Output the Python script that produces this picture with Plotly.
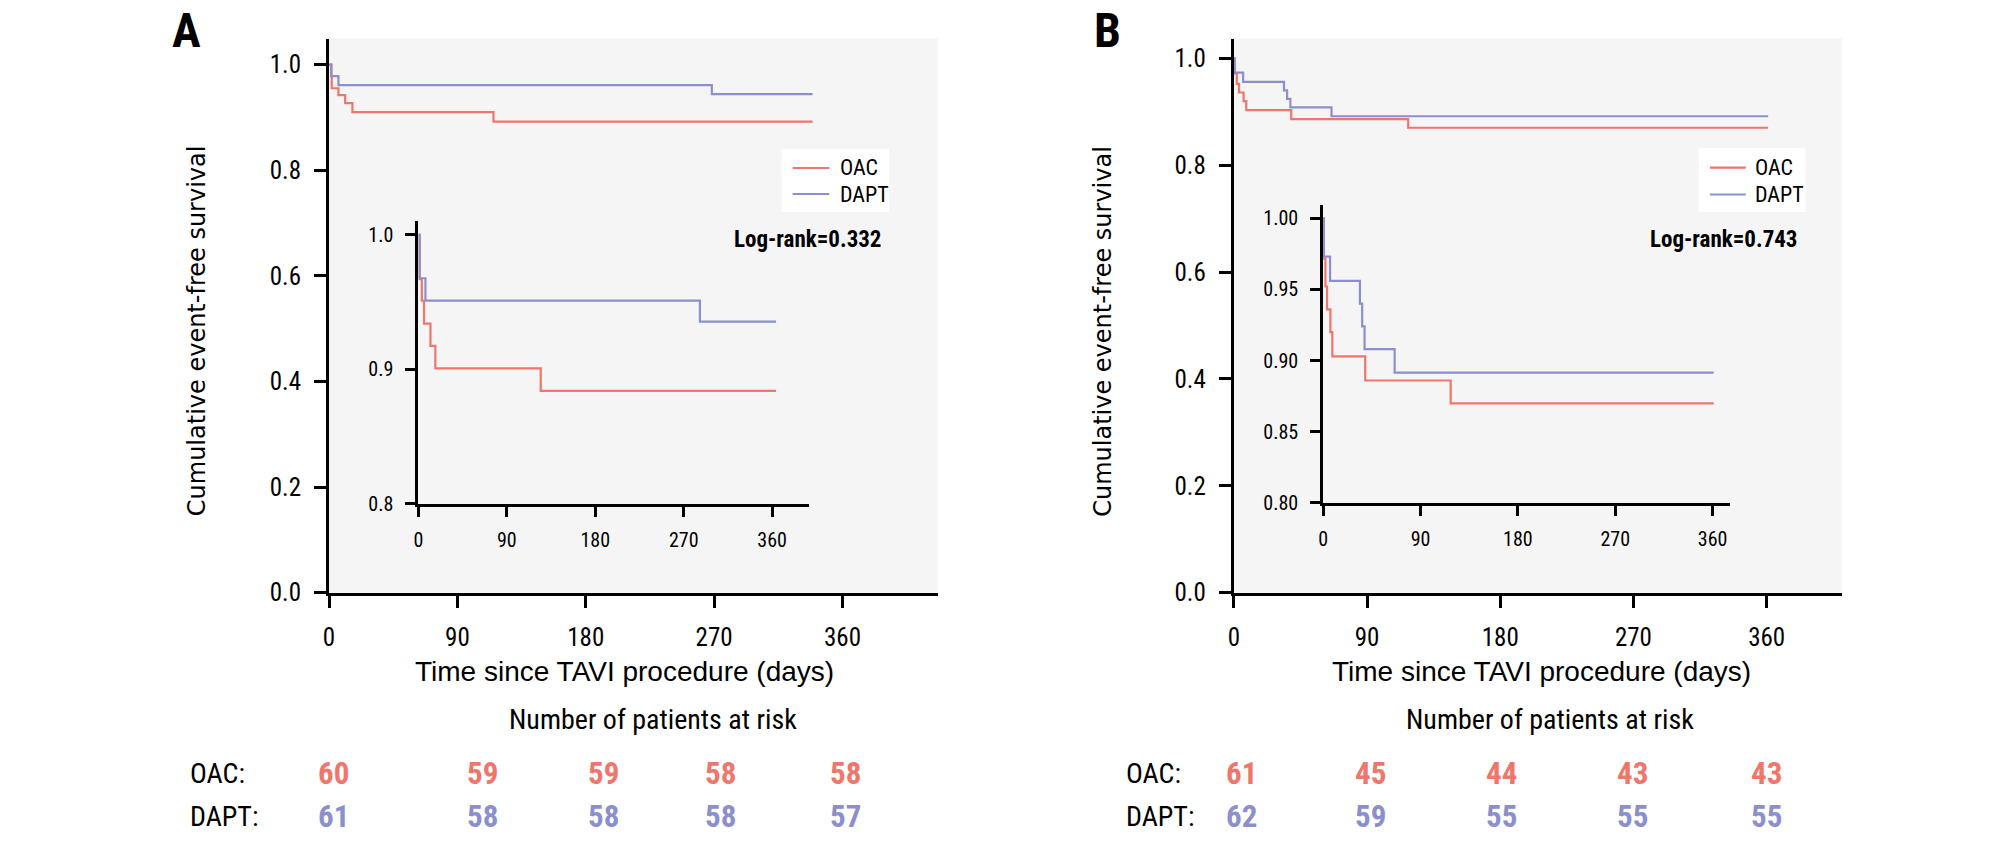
import plotly.graph_objects as go

W, H = 2009, 851

# ---------------- data ----------------
# Panel A, inset (zoomed) curves
a_oac_t = [0, 1.0, 3.5, 5.8, 12.3, 17.3, 124.5, 364]
a_oac_s = [1.0, 0.967, 0.951, 0.934, 0.9175, 0.9007, 0.884, 0.884]
a_dapt_t = [0, 1.4, 7.2, 286.5, 364]
a_dapt_s = [1.0, 0.9677, 0.951, 0.9355, 0.9355]
# Panel A, main-plot curves (as drawn on the main axes)
a_main_oac_t = [0, 1.5, 1.9, 6.6, 11.3, 16.4, 115.3, 339]
a_main_oac_s = [1.0, 0.978, 0.955, 0.942, 0.927, 0.910, 0.892, 0.892]
a_main_dapt_t = [0, 1.7, 6.6, 268.4, 339]
a_main_dapt_s = [1.0, 0.978, 0.961, 0.944, 0.944]

# Panel B
b_oac_t = [0, 0.5, 2.0, 3.5, 6.6, 8.4, 38.8, 117.8, 361]
b_oac_s = [1.0, 0.9715, 0.952, 0.936, 0.920, 0.903, 0.886, 0.870, 0.870]
b_dapt_t = [0, 0.6, 6.3, 33.9, 36.0, 38.2, 66.0, 361]
b_dapt_s = [1.0, 0.973, 0.956, 0.940, 0.924, 0.908, 0.8915, 0.8915]

# Numbers at risk
risk_times = [0, 90, 180, 270, 360]
a_risk_oac = [60, 59, 59, 58, 58]
a_risk_dapt = [61, 58, 58, 58, 57]
b_risk_oac = [61, 45, 44, 43, 43]
b_risk_dapt = [62, 59, 55, 55, 55]

groups = ["OAC", "DAPT"]
logrank = ["Log-rank=0.332", "Log-rank=0.743"]
panels = ["A", "B"]
main_yticks = [0.0, 0.2, 0.4, 0.6, 0.8, 1.0]
a_inset_yticks = [0.8, 0.9, 1.0]
b_inset_yticks = [0.80, 0.85, 0.90, 0.95, 1.00]
x_ticks = [0, 90, 180, 270, 360]

# ---------------- styling ----------------
RED = "#F0756A"
BLUE = "#8B8FCE"
BG = "#F5F5F5"
NARROW = "Liberation Sans Narrow, Roboto Condensed, DejaVu Sans Condensed, Liberation Sans, sans-serif"
WIDE = "Liberation Sans, Arial, sans-serif"
YT = "DejaVu Sans, Verdana, sans-serif"
LW = 2.2


def dx(p):
    return p / W


def dy(p):
    return 1 - p / H


fig = go.Figure()


def add_curve(t, s, color, xa, ya, name):
    fig.add_trace(go.Scatter(
        x=t, y=s, mode="lines", line=dict(color=color, width=LW, shape="hv"),
        xaxis=xa, yaxis=ya, name=name, showlegend=False, hoverinfo="skip"))


# Panel A main
add_curve(a_main_oac_t, a_main_oac_s, RED, "x", "y", groups[0])
add_curve(a_main_dapt_t, a_main_dapt_s, BLUE, "x", "y", groups[1])
# Panel A inset
add_curve(a_oac_t, a_oac_s, RED, "x2", "y2", groups[0])
add_curve(a_dapt_t, a_dapt_s, BLUE, "x2", "y2", groups[1])
# Panel B main
add_curve(b_oac_t, b_oac_s, RED, "x3", "y3", groups[0])
add_curve(b_dapt_t, b_dapt_s, BLUE, "x3", "y3", groups[1])
# Panel B inset
add_curve(b_oac_t, b_oac_s, RED, "x4", "y4", groups[0])
add_curve(b_dapt_t, b_dapt_s, BLUE, "x4", "y4", groups[1])


def main_x(dom, rng, anchor):
    return dict(domain=dom, range=rng, anchor=anchor, showline=True, linecolor="black",
                linewidth=3, ticks="outside", ticklen=12, tickwidth=2.5, tickcolor="black",
                tickvals=x_ticks, showgrid=False, zeroline=False,
                tickfont=dict(family=NARROW, size=25, color="black"),
                ticklabelstandoff=8, fixedrange=True)


def main_y(dom, rng, anchor):
    return dict(domain=dom, range=rng, anchor=anchor, showline=True, linecolor="black",
                linewidth=3, ticks="outside", ticklen=12, tickwidth=2.5, tickcolor="black",
                tickvals=main_yticks, tickformat=".1f", showgrid=False, zeroline=False,
                tickfont=dict(family=NARROW, size=25, color="black"),
                ticklabelstandoff=8, fixedrange=True)


def inset_x(dom, rng, anchor):
    return dict(domain=dom, range=rng, anchor=anchor, showline=True, linecolor="black",
                linewidth=3, ticks="outside", ticklen=10, tickwidth=2.5, tickcolor="black",
                tickvals=x_ticks, showgrid=False, zeroline=False,
                tickfont=dict(family=NARROW, size=20, color="black"),
                ticklabelstandoff=6, fixedrange=True)


def inset_y(dom, rng, anchor, vals, fmt):
    return dict(domain=dom, range=rng, anchor=anchor, showline=True, linecolor="black",
                linewidth=3, ticks="outside", ticklen=10, tickwidth=2.5, tickcolor="black",
                tickvals=vals, tickformat=fmt, showgrid=False, zeroline=False,
                tickfont=dict(family=NARROW, size=20, color="black"),
                ticklabelstandoff=8, fixedrange=True)


main_ydom = [dy(603.3), dy(39.3)]

fig.update_layout(
    width=W, height=H, margin=dict(l=0, r=0, t=0, b=0),
    paper_bgcolor="white", plot_bgcolor=BG, showlegend=False,
    xaxis=main_x([dx(324), dx(934.7)], [0, 426.9], "y"),
    yaxis=main_y(main_ydom, [0, 1.049], "x"),
    xaxis2=inset_x([dx(413.6), dx(805)], [0, 397.1], "y2"),
    yaxis2=inset_y([dy(513), dy(225)], [0.8, 1.0102], "x2", a_inset_yticks, ".1f"),
    xaxis3=main_x([dx(1231.5), dx(1841.5)], [0, 410.9], "y3"),
    yaxis3=main_y(main_ydom, [0, 1.0368], "x3"),
    xaxis4=inset_x([dx(1321.2), dx(1729.5)], [0, 376.4], "y4"),
    yaxis4=inset_y([dy(512), dy(209)], [0.8, 1.009], "x4", b_inset_yticks, ".2f"),
)

ann = []
shapes = []


def text(x, y, s, size, family=NARROW, bold=False, color="black", xanchor="center",
         angle=0, yanchor="middle"):
    ann.append(dict(xref="paper", yref="paper", x=dx(x), y=dy(y),
                    text=("<b>%s</b>" % s) if bold else s,
                    showarrow=False, xanchor=xanchor, yanchor=yanchor, textangle=angle,
                    font=dict(family=family, size=size, color=color)))


# panel letters
text(181, 0, panels[0], 48, bold=True, yanchor="top")
text(1105, 0, panels[1], 48, bold=True, yanchor="top")
# y titles
text(191.7, 337, "Cumulative event-free survival", 24, family=YT, angle=-90)
text(1100, 337, "Cumulative event-free survival", 24, family=YT, angle=-90)
# log-rank
text(804, 244, logrank[0], 23, bold=True)
text(1723.4, 244, logrank[1], 23, bold=True)
# x titles
text(620.3, 683.3, "Time since TAVI procedure (days)", 28, family=WIDE)
text(1539.9, 683.3, "Time since TAVI procedure (days)", 28, family=WIDE)
text(649, 732.7, "Number of patients at risk", 28)
text(1549, 732.7, "Number of patients at risk", 28)

# legends (box, line samples, labels)
for (bx0, bx1, by0, by1, lx0, lx1, tx, ly) in [
        (778, 885.7, 151.7, 215.7, 789, 825.7, 834, (171, 197.5)),
        (1697.7, 1805, 151, 215.7, 1709, 1745, 1752.3, (170.7, 198))]:
    shapes.append(dict(type="rect", xref="paper", yref="paper", x0=dx(bx0), x1=dx(bx1),
                       y0=dy(by1), y1=dy(by0), fillcolor="white", line=dict(width=0),
                       layer="above"))
    for g, col, yy in zip(groups, [RED, BLUE], ly):
        shapes.append(dict(type="line", xref="paper", yref="paper", x0=dx(lx0), x1=dx(lx1),
                           y0=dy(yy), y1=dy(yy), line=dict(color=col, width=LW),
                           layer="above"))
        text(tx, yy, g, 22, xanchor="left")

# risk table
a_pos = [328.6, 478, 599, 716.7, 841.7]
b_pos = [1238.7, 1368.4, 1500, 1631.8, 1766]
row_y = [787, 831.5]
for left, pos, rows in [(183, a_pos, (a_risk_oac, a_risk_dapt)),
                        (1121.7, b_pos, (b_risk_oac, b_risk_dapt))]:
    for gi, (g, vals, col) in enumerate(zip(groups, rows, [RED, BLUE])):
        text(left, row_y[gi], g + ":", 28, xanchor="left")
        for p, v in zip(pos, vals):
            text(p, row_y[gi], str(v), 31, bold=True, color=col)

fig.update_layout(annotations=ann, shapes=shapes)
fig.write_html("out.html", config={"displayModeBar": False},
               post_script="document.body.style.margin='0';document.body.style.overflow='hidden';")
